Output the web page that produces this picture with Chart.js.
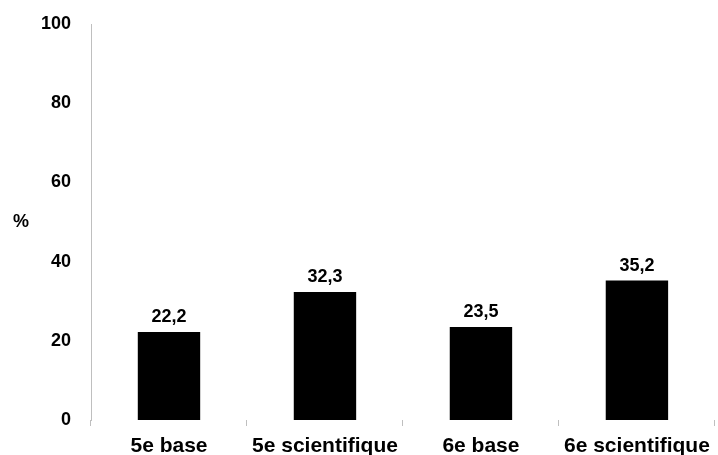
<!DOCTYPE html>
<html>
<head>
<meta charset="utf-8">
<script src="https://cdn.jsdelivr.net/npm/chart.js@4/dist/chart.umd.min.js"></script>
<style>
  html, body { margin: 0; padding: 0; background: #fff; }
  #wrap { width: 718px; height: 455px; position: relative; }
</style>
</head>
<body>
<div id="wrap"><canvas id="c" width="718" height="455"></canvas></div>
<script>
// Categories and values (percent)
const categories = ['5e base', '5e scientifique', '6e base', '6e scientifique'];
const values = [22.2, 32.3, 23.5, 35.2];
const yTicks = [0, 20, 40, 60, 80, 100];
const yTitle = '%';

const FONT = "'Liberation Sans', Arial, sans-serif";

// Value labels above each bar, with decimal comma
const valueLabels = {
  id: 'valueLabels',
  afterDatasetsDraw(chart) {
    const ctx = chart.ctx;
    const meta = chart.getDatasetMeta(0);
    ctx.save();
    ctx.font = 'bold 18px ' + FONT;
    ctx.fillStyle = '#000';
    ctx.textAlign = 'center';
    ctx.textBaseline = 'alphabetic';
    meta.data.forEach((bar, i) => {
      const txt = values[i].toFixed(1).replace('.', ',');
      ctx.fillText(txt, bar.x, bar.y - 10);
    });
    ctx.restore();
  }
};

// Horizontal "%" axis title, centred on the plot area
const axisTitle = {
  id: 'axisTitle',
  afterDraw(chart) {
    const ctx = chart.ctx;
    const area = chart.chartArea;
    ctx.save();
    ctx.font = 'bold 18px ' + FONT;
    ctx.fillStyle = '#000';
    ctx.textAlign = 'center';
    ctx.textBaseline = 'middle';
    ctx.fillText(yTitle, 21, (area.top + area.bottom) / 2);
    ctx.restore();
  }
};

new Chart(document.getElementById('c'), {
  type: 'bar',
  data: {
    labels: categories,
    datasets: [{
      data: values,
      backgroundColor: '#000',
      borderWidth: 0,
      barPercentage: 0.40,
      categoryPercentage: 1.0
    }]
  },
  options: {
    responsive: false,
    animation: false,
    events: [],
    layout: { padding: { top: 24, right: 1, left: 0, bottom: 0 } },
    plugins: {
      legend: { display: false },
      tooltip: { enabled: false }
    },
    scales: {
      x: {
        offset: true,
        grid: {
          display: true,
          offset: true,
          drawOnChartArea: false,
          drawTicks: true,
          tickLength: 6,
          color: '#bfbfbf',
          lineWidth: 1
        },
        border: { display: false },
        ticks: {
          color: '#000',
          padding: 8,
          font: { family: FONT, size: 21, weight: 'bold' },
          maxRotation: 0,
          autoSkip: false
        },
        afterFit(scale) { scale.height = 35; }
      },
      y: {
        min: 0,
        max: 100,
        afterBuildTicks(scale) { scale.ticks = yTicks.map(v => ({ value: v })); },
        grid: { display: false },
        border: { display: true, color: '#bfbfbf', width: 1 },
        ticks: {
          color: '#000',
          padding: 12,
          font: { family: FONT, size: 18, weight: 'bold' }
        },
        afterFit(scale) { scale.width = 91; }
      }
    }
  },
  plugins: [valueLabels, axisTitle]
});
</script>
</body>
</html>
